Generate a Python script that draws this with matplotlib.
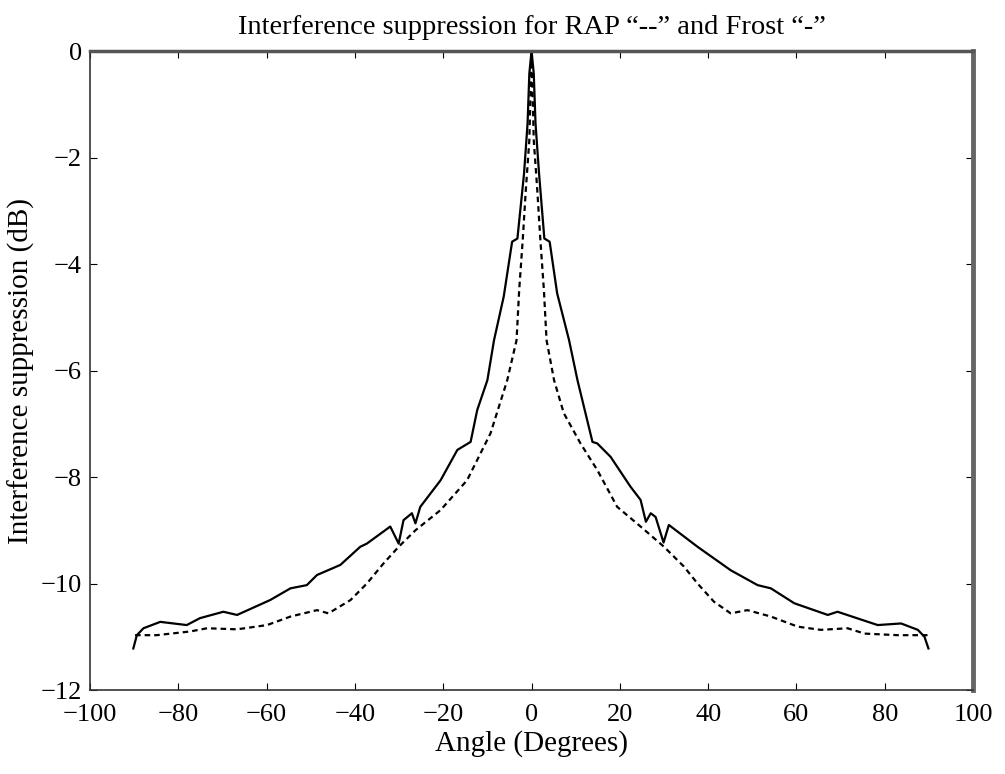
import matplotlib
matplotlib.use("Agg")
from matplotlib import pyplot as plt

# Frost "-" (solid)
frost_angle = [-90.2, -89.4, -87.9, -84.1, -78.1, -75.1, -69.8, -66.7, -59.2, -54.6,
               -50.9, -48.6, -43.3, -38.8, -37.3, -32.0, -30.1, -29.0, -27.1, -26.3,
               -25.2, -20.6, -16.8, -13.8, -12.3, -10.0, -8.5, -6.3, -4.4, -3.2,
               -1.7, -0.9, -0.5, 0.0,
               0.5, 0.9, 1.7, 2.9, 4.1, 5.8, 8.5, 10.4, 13.8, 14.9,
               17.9, 22.4, 24.7, 25.9, 27.0, 28.1, 29.9, 31.1, 37.6, 45.1,
               51.2, 54.2, 59.5, 67.1, 69.3, 78.4, 83.7, 87.5, 89.0, 89.9]
frost_db = [-11.22, -10.97, -10.84, -10.72, -10.78, -10.65, -10.53, -10.59, -10.31, -10.09,
            -10.03, -9.84, -9.65, -9.31, -9.25, -8.93, -9.25, -8.81, -8.68, -8.87,
            -8.56, -8.06, -7.49, -7.34, -6.74, -6.18, -5.43, -4.61, -3.58, -3.52,
            -2.30, -1.36, -0.42, 0.0,
            -0.42, -1.36, -2.30, -3.52, -3.58, -4.55, -5.43, -6.18, -7.34, -7.37,
            -7.62, -8.18, -8.43, -8.84, -8.68, -8.75, -9.23, -8.90, -9.31, -9.75,
            -10.03, -10.09, -10.37, -10.59, -10.53, -10.78, -10.75, -10.87, -11.0, -11.22]

# RAP "--" (dashed)
rap_angle = [-89.8, -84.9, -77.3, -73.5, -66.7, -59.9, -54.6, -48.6, -46.0, -41.0,
             -37.3, -33.5, -30.1, -26.3, -20.6, -14.6, -9.3, -5.5, -3.4, -2.8,
             -2.0, -1.3, -0.5, 0.0,
             0.5, 1.3, 2.0, 2.8, 3.4, 5.1, 7.3, 11.1, 14.9, 19.4,
             24.7, 30.0, 34.5, 37.6, 41.3, 45.1, 48.9, 54.2, 60.3, 65.5,
             71.6, 75.4, 82.9, 89.7]
rap_db = [-10.97, -10.97, -10.90, -10.84, -10.86, -10.78, -10.62, -10.50, -10.56, -10.31,
          -10.0, -9.62, -9.31, -9.0, -8.62, -8.06, -7.18, -6.18, -5.43, -4.49,
          -3.55, -2.61, -1.67, 0.0,
          -1.67, -2.61, -3.55, -4.49, -5.43, -6.18, -6.80, -7.37, -7.87, -8.56,
          -8.93, -9.31, -9.68, -10.0, -10.34, -10.56, -10.50, -10.62, -10.81, -10.87,
          -10.84, -10.94, -10.97, -10.97]

x_ticks = list(range(-100, 101, 20))
y_ticks = list(range(-12, 1, 2))


def main():
    plt.rcParams["font.family"] = ["Liberation Serif", "DejaVu Serif"]
    fontsize = 19

    fig = plt.figure(figsize=(10.05, 7.74), dpi=100)
    ax = fig.add_axes([0.0896, 0.1085, 0.8786, 0.8255])

    ax.plot(frost_angle, frost_db, color="black", linewidth=1.6)
    ax.plot(rap_angle, rap_db, color="black", linewidth=1.6, linestyle=(0, (2.5, 1.8)))

    ax.set_xlim(-100, 100)
    ax.set_ylim(-12, 0)
    ax.set_xticks(x_ticks)
    ax.set_yticks(y_ticks)
    ax.set_xticklabels([str(t).replace("-", "\u2212") for t in x_ticks])
    ax.set_yticklabels([str(t).replace("-", "\u2212") for t in y_ticks])
    ax.tick_params(direction="in", top=True, right=True, length=5, labelsize=fontsize)
    ax.tick_params(axis="x", pad=10)
    ax.tick_params(axis="y", pad=6)

    for side in ["left", "bottom"]:
        ax.spines[side].set_linewidth(1.2)
        ax.spines[side].set_color("#333333")
    ax.spines["top"].set_linewidth(2.5)
    ax.spines["top"].set_color("#555555")
    ax.spines["right"].set_linewidth(3.5)
    ax.spines["right"].set_color("#666666")

    ax.set_xlabel("Angle (Degrees)", fontsize=21, labelpad=3)
    ax.set_ylabel("Interference suppression (dB)", fontsize=21, labelpad=4)
    ax.set_title("Interference suppression for RAP \u201c--\u201d and Frost \u201c-\u201d",
                 fontsize=20.5, pad=12)

    fig.savefig("out.png", dpi=100)


if __name__ == "__main__":
    main()
